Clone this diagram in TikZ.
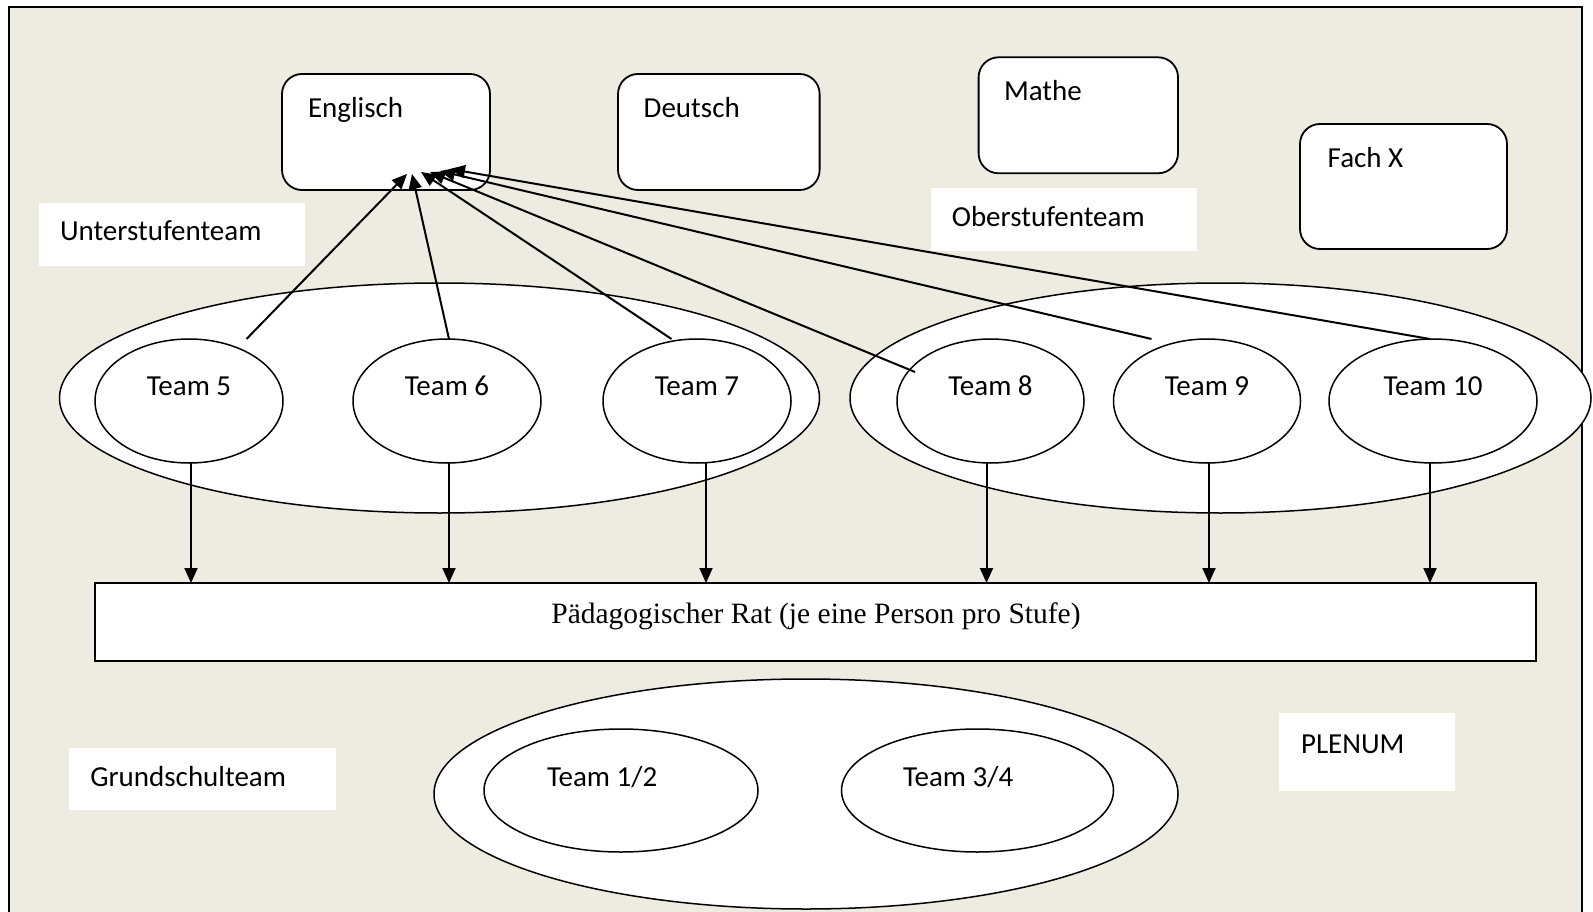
\documentclass[tikz,border=0pt]{standalone}
\usepackage{fontspec}
\setmainfont{Carlito}
\newfontfamily\ratfont{Liberation Serif}
\usetikzlibrary{shapes.geometric,arrows.meta,calc}
\definecolor{paper}{HTML}{EEECE1}

\begin{document}
\begin{tikzpicture}[x=1pt,y=-1pt,
  every node/.style={inner sep=0pt, outer sep=0pt},
  txt/.style={font=\fontsize{29}{35}\selectfont},
  lbl/.style={txt, anchor=base west},
  subject/.style={draw, line width=1.8pt, fill=white, rounded corners=20pt},
  tag/.style={fill=white},
  group/.style={ellipse, draw, line width=1.5pt, fill=white},
  team/.style={ellipse, draw, line width=1.5pt, fill=white},
  link/.style={line width=2pt, -{Triangle[length=15pt,width=13pt]}},
]
% page and framed background
\fill[white] (0,0) rectangle (1593,912);
\useasboundingbox (0,0) rectangle (1593,912);
\path[fill=paper, draw=black, line width=2pt] (9,7) rectangle (1582,940);

% subject boxes
\node[subject, minimum width=208pt, minimum height=116pt] (eng) at (386,132) {};
\node[subject, minimum width=201.6pt, minimum height=116pt] (deu) at (718.8,132) {};
\node[subject, minimum width=199.4pt, minimum height=116pt] (mat) at (1078.3,115.3) {};
\node[subject, minimum width=207pt, minimum height=125pt] (fx) at (1403.5,186.5) {};
\node[lbl] (engT) at (308,118) {Englisch};
\node[lbl] (deuT) at (643.7,117.3) {Deutsch};
\node[lbl] (matT) at (1004,100.7) {Mathe};
\node[lbl] (fxT) at (1327.7,167.7) {Fach X};

% white name tags
\node[tag, minimum width=266.4pt, minimum height=62.4pt] (tagU) at (172.2,234.5) {};
\node[tag, minimum width=266.2pt, minimum height=62.7pt] (tagO) at (1063.9,219.35) {};
\node[tag, minimum width=266.7pt, minimum height=61.4pt] (tagG) at (202.25,779) {};
\node[tag, minimum width=176pt, minimum height=78pt] (tagP) at (1367,752) {};
\node[lbl] (tagUT) at (60,240.7) {Unterstufenteam};
\node[lbl] (tagOT) at (951.8,226.7) {Oberstufenteam};
\node[lbl] (tagGT) at (90.3,786.7) {Grundschulteam};
\node[lbl] (tagPT) at (1301,753) {PLENUM};

% groups of teams
\node[group, minimum width=760pt, minimum height=230pt] (grpU) at (439.5,398) {};
\node[group, minimum width=741pt, minimum height=230pt] (grpO) at (1220.5,398) {};
\node[group, minimum width=744pt, minimum height=230pt] (grpG) at (806,794) {};

% teams
\node[team, minimum width=188pt, minimum height=124pt] (t5) at (189,401) {};
\node[team, minimum width=188pt, minimum height=124pt] (t6) at (447,401) {};
\node[team, minimum width=188pt, minimum height=124pt] (t7) at (697,401) {};
\node[team, minimum width=187pt, minimum height=124pt] (t8) at (990.5,401) {};
\node[team, minimum width=187pt, minimum height=124pt] (t9) at (1207,401) {};
\node[team, minimum width=208pt, minimum height=124pt] (t10) at (1433,401) {};
\node[team, minimum width=274pt, minimum height=123pt] (t12) at (621,790.5) {};
\node[team, minimum width=272pt, minimum height=123pt] (t34) at (977.5,790.5) {};
\foreach \t/\s in {t5/5, t6/6, t7/7, t8/8, t9/9, t10/10}
  \node[txt, anchor=base] (\t T) at (\t.center |- 0,395) {Team \s};
\node[lbl] (t12T) at (547,786) {Team 1/2};
\node[lbl] (t34T) at (903,786) {Team 3/4};

% pedagogical council
\node[draw, line width=2pt, fill=white, minimum width=1441pt, minimum height=78pt] (rat) at (815.5,622) {};
\node[anchor=base, font=\ratfont\fontsize{29.5}{35}\selectfont] (ratT) at (816,623)
  {Pädagogischer Rat (je eine Person pro Stufe)};

% teams report to the council
\foreach \t/\dx in {t5/2, t6/2, t7/9, t8/-4, t9/2, t10/-3}
  \draw[link] ([xshift=\dx pt]\t.south) -- ([xshift=\dx pt]\t.south |- rat.north);

% teams send members to the subject group
\coordinate (s8) at ($(t8.center)+(-75.5,-29)$);
\coordinate (e5) at ($(eng.south)+(21,-16)$);
\coordinate (e6) at ($(eng.south)+(26,-16)$);
\coordinate (e7) at ($(eng.south)+(35,-18)$);
\coordinate (e8) at ($(eng.south)+(44,-18)$);
\coordinate (e9) at ($(eng.south)+(54,-19)$);
\coordinate (e10) at ($(eng.south)+(64,-21)$);
\draw[link] ([xshift=57.5pt]t5.north) -- (e5);
\draw[link] ([xshift=2pt]t6.north) -- (e6);
\draw[link] ([xshift=-25.5pt]t7.north) -- (e7);
\draw[link] (s8) -- (e8);
\draw[link] ([xshift=-55.5pt]t9.north) -- (e9);
\draw[link] ([xshift=-3pt]t10.north) -- (e10);
\end{tikzpicture}
\end{document}
